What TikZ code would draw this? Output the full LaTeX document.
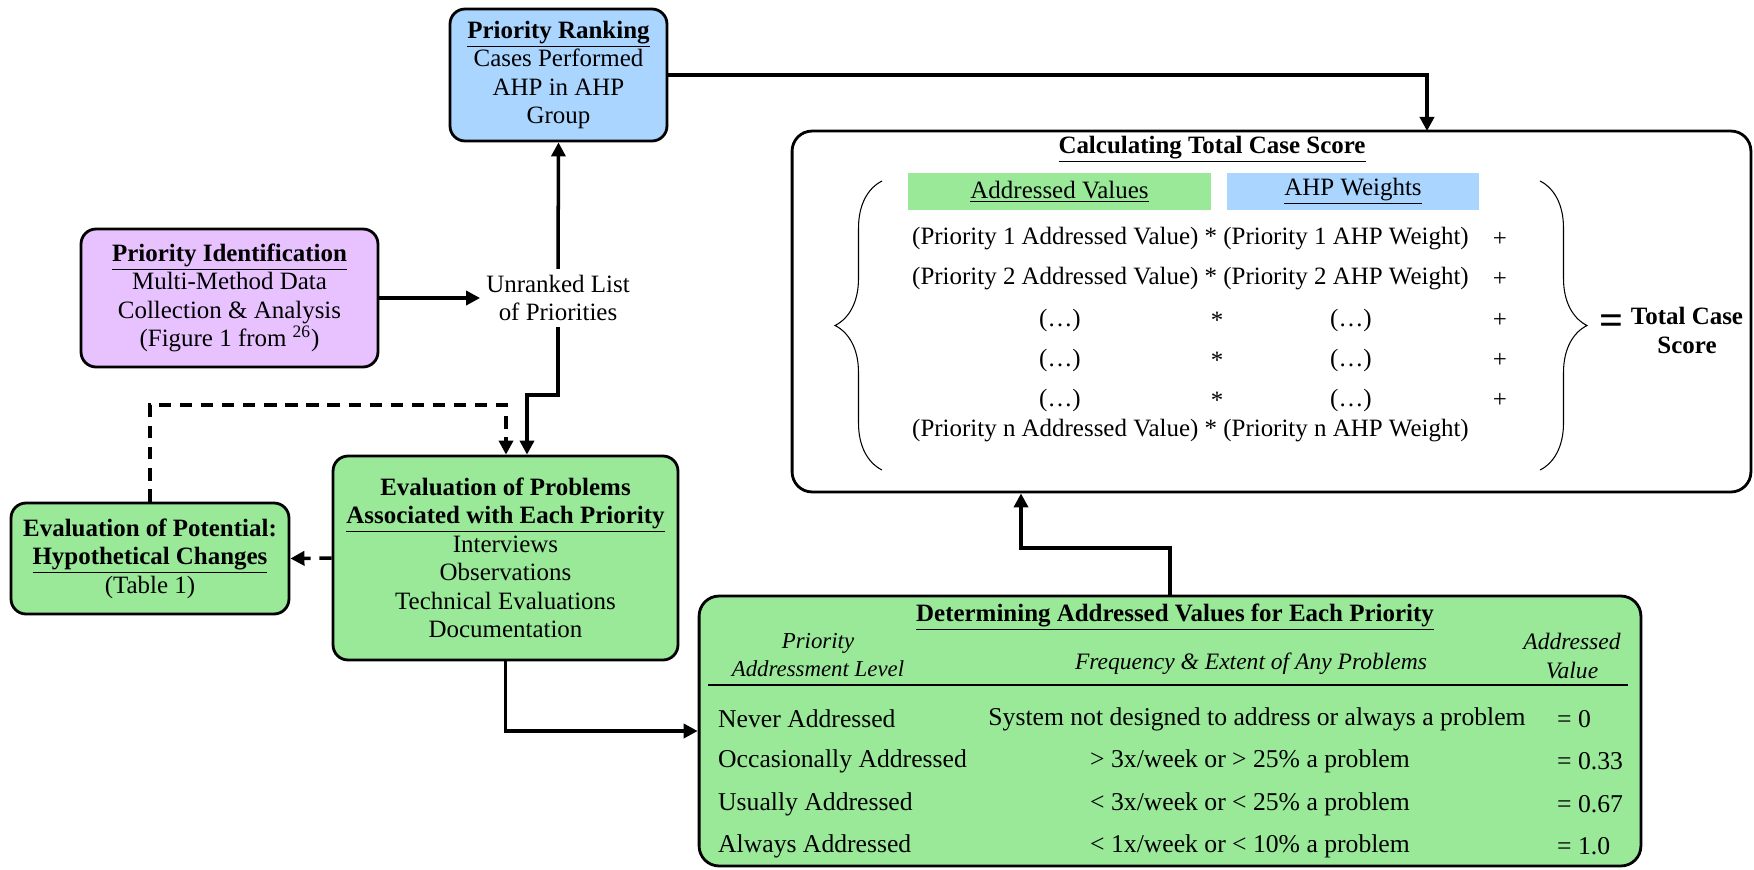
\documentclass[tikz,border=0pt]{standalone}
\usepackage{fontspec}
\setmainfont{Liberation Serif}
\usepackage{tikz}
\usetikzlibrary{arrows.meta,decorations.pathreplacing}

\definecolor{boxgreen}{RGB}{153,233,153}
\definecolor{boxblue}{RGB}{170,213,255}
\definecolor{boxpurple}{RGB}{232,194,255}
\newcommand{\bodysize}{\fontsize{14.2}{16.2}\selectfont}
\newcommand{\rowsize}{\fontsize{14.6}{16.6}\selectfont}

\begin{document}
\begin{tikzpicture}[x=0.02cm,y=-0.02cm,
    font=\bodysize,
    stagebox/.style={draw=black, line width=1.6pt, rounded corners=0.3cm, align=center, inner sep=2pt},
    arr/.style={line width=2pt, -{Triangle[length=8pt,width=8pt]}},
    dasharr/.style={arr, dash pattern=on 7pt off 5pt},
    bracket/.style={decorate, decoration={brace, amplitude=0.94cm}, line width=0.6pt}]
				\useasboundingbox (0,0) rectangle (1754,869);

				% Boxes
				\node[stagebox, fill=boxblue, minimum width=4.34cm, minimum height=2.64cm] (rank) at (558.5,75)
				  {\underline{\textbf{Priority Ranking}}\\Cases Performed\\AHP in AHP\\Group};
				\node[stagebox, fill=boxpurple, minimum width=5.94cm, minimum height=2.76cm] (ident) at (229.5,298)
				  {\underline{\textbf{Priority Identification}}\\Multi-Method Data\\Collection \& Analysis\\(Figure 1 from \textsuperscript{26})};
				\node[align=center] (unranked) at (558,298) {Unranked List\\of Priorities};
				\node[stagebox, fill=boxgreen, minimum width=6.9cm, minimum height=4.08cm] (problems) at (505.5,558)
				  {\textbf{Evaluation of Problems}\\\underline{\textbf{Associated with Each Priority}}\\Interviews\\Observations\\Technical Evaluations\\Documentation};
				\node[stagebox, fill=boxgreen, minimum width=5.56cm, minimum height=2.22cm] (potential) at (150,558.5)
				  {\textbf{Evaluation of Potential:}\\\underline{\textbf{Hypothetical Changes}}\\(Table 1)};
				\node[stagebox, rounded corners=0.4cm, minimum width=19.18cm, minimum height=7.22cm] (total) at (1271.5,311.5) {};
				\node[stagebox, fill=boxgreen, rounded corners=0.4cm, minimum width=18.84cm, minimum height=5.4cm] (addressed) at (1170,731) {};

				% Total case score
				\node[font=\bodysize\bfseries] (totaltitle) at (1212,149) {\underline{Calculating Total Case Score}};
				\node[fill=boxgreen, minimum width=6.06cm, minimum height=0.74cm] (valhead) at (1059.5,191.5) {\underline{Addressed Values}};
				\node[fill=boxblue, minimum width=5.04cm, minimum height=0.74cm] (wthead) at (1353,191.5) {\underline{AHP Weights}};
				\node[anchor=west] (row1) at (906,239) {(Priority 1 Addressed Value) * (Priority 1 AHP Weight)};
				\node (plus1) at (1500,239) {+};
				\node[anchor=west] (row2) at (906,279) {(Priority 2 Addressed Value) * (Priority 2 AHP Weight)};
				\node (plus2) at (1500,279) {+};
				\foreach \y in {320,360,400} {
				  \node (lval\y) at (1060,\y) {(…)};
				  \node (times\y) at (1217,\y) {*};
				  \node (rval\y) at (1351,\y) {(…)};
				  \node (plus\y) at (1500,\y) {+};
				}
				\node[anchor=west] (rown) at (906,431) {(Priority n Addressed Value) * (Priority n AHP Weight)};
				\draw[bracket] (882,470) -- (882,181);
				\draw[bracket] (1540,181) -- (1540,470);
				\node[inner sep=0pt, font=\fontsize{24}{24}\selectfont\bfseries] (equals) at (1611,325) {=};
				\node[align=center, inner sep=1pt, font=\fontsize{14.2}{16.5}\selectfont\bfseries] (score) at (1687,330) {Total Case\\Score};

				% Addressed values table
				\node[font=\bodysize\bfseries] (addtitle) at (1175,617) {\underline{Determining Addressed Values for Each Priority}};
				\node[align=center, font=\fontsize{13}{16}\selectfont\itshape] (hlevel) at (818,655) {Priority\\Addressment Level};
				\node[font=\fontsize{13.4}{16}\selectfont\itshape] (hfreq) at (1251,664) {Frequency \& Extent of Any Problems};
				\node[align=center, font=\fontsize{13.4}{16}\selectfont\itshape] (hvalue) at (1572,656) {Addressed\\Value};
				\draw[line width=0.8pt] (708,685) -- (1628,685);
				\node[anchor=west, font=\rowsize] (lvl1) at (712,719) {Never Addressed};
				\node[font=\rowsize] (freq1) at (1257,719) {System not designed to address or always a problem};
				\node[anchor=west, font=\rowsize] (val1) at (1551,719) {= 0};
				\node[anchor=west, font=\rowsize] (lvl2) at (712,761) {Occasionally Addressed};
				\node[font=\rowsize] (freq2) at (1250,761) {> 3x/week or > 25\% a problem};
				\node[anchor=west, font=\rowsize] (val2) at (1551,761) {= 0.33};
				\node[anchor=west, font=\rowsize] (lvl3) at (712,804) {Usually Addressed};
				\node[font=\rowsize] (freq3) at (1250,804) {< 3x/week or < 25\% a problem};
				\node[anchor=west, font=\rowsize] (val3) at (1551,804) {= 0.67};
				\node[anchor=west, font=\rowsize] (lvl4) at (712,846) {Always Addressed};
				\node[font=\rowsize] (freq4) at (1250,846) {< 1x/week or < 10\% a problem};
				\node[anchor=west, font=\rowsize] (val4) at (1551,846) {= 1.0};

				% Connectors
				\coordinate (stepdown) at (527,395);
				\coordinate (dashtop) at (506,405);
				\coordinate (scoreup) at (1021,548);
				\coordinate (scorein) at (1427,131);
				\draw[arr] (ident.east) -- (unranked.west);
				\draw[arr] (unranked.north) -- (rank.south);
				\draw[arr] (unranked.south) |- (stepdown) -- (stepdown |- problems.north);
				\draw[dasharr] (potential.north) |- (dashtop) -- (dashtop |- problems.north);
				\draw[dasharr] (problems.west) -- (potential.east);
				\draw[arr] (problems.south) |- (addressed.west);
				\draw[arr] (addressed.north) |- (scoreup) -- (scoreup |- total.south);
				\draw[arr] (rank.east) -| (scorein);
			\end{tikzpicture}
\end{document}
